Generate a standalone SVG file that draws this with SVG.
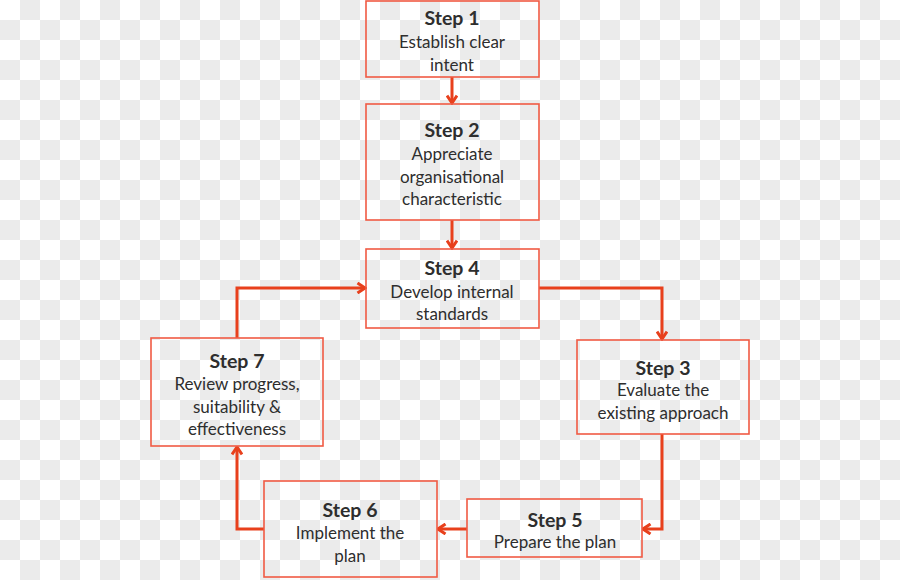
<svg xmlns="http://www.w3.org/2000/svg" width="900" height="580" viewBox="0 0 900 580">
<defs>
<pattern id="chk" x="0" y="0" width="40" height="40" patternUnits="userSpaceOnUse">
<rect width="40" height="40" fill="#ffffff"/>
<rect x="20" y="0" width="20" height="20" fill="#ebebeb"/>
<rect x="0" y="20" width="20" height="20" fill="#ebebeb"/>
</pattern>
<marker id="arr" viewBox="0 0 12 12" markerWidth="12" markerHeight="12" refX="10.5" refY="6" orient="auto" markerUnits="userSpaceOnUse">
<path d="M3,1 L10.5,6 L3,11" fill="none" stroke="#e8401c" stroke-width="3"/>
</marker>
</defs>
<style>
.box{fill:none;stroke:#f05a44;stroke-width:1.6}
.t{font-family:Lato,"Open Sans","Liberation Sans",sans-serif;fill:#2e2e2e;text-anchor:middle}
.h{font-size:19.5px;font-weight:bold}
.b{font-size:17px}
.c{fill:none;stroke:#e8401c;stroke-width:3;marker-end:url(#arr)}
</style>
<rect width="900" height="580" fill="url(#chk)"/>
<g id="connectors">
<path class="c" d="M452,77 V103"/>
<path class="c" d="M452,220 V248"/>
<path class="c" d="M539,288 H662 V339"/>
<path class="c" d="M662,434 V529 H643"/>
<path class="c" d="M467,529 H438"/>
<path class="c" d="M264,529 H237 V447"/>
<path class="c" d="M237,338 V288 H365"/>
</g>
<g id="step1">
<rect class="box" x="366" y="1" width="173" height="76"/>
<text class="t h" x="452" y="25">Step 1</text>
<text class="t b" x="452" y="48">Establish clear</text>
<text class="t b" x="452" y="71">intent</text>
</g>
<g id="step2">
<rect class="box" x="366" y="104" width="173" height="116"/>
<text class="t h" x="452" y="137">Step 2</text>
<text class="t b" x="452" y="160">Appreciate</text>
<text class="t b" x="452" y="183">organisational</text>
<text class="t b" x="452" y="205">characteristic</text>
</g>
<g id="step4">
<rect class="box" x="366" y="249" width="173" height="79"/>
<text class="t h" x="452" y="275">Step 4</text>
<text class="t b" x="452" y="298">Develop internal</text>
<text class="t b" x="452" y="320">standards</text>
</g>
<g id="step3">
<rect class="box" x="577" y="340" width="172" height="94"/>
<text class="t h" x="663" y="375">Step 3</text>
<text class="t b" x="663" y="396">Evaluate the</text>
<text class="t b" x="663" y="419">existing approach</text>
</g>
<g id="step7">
<rect class="box" x="151" y="338" width="172" height="108"/>
<text class="t h" x="237" y="368">Step 7</text>
<text class="t b" x="237" y="390">Review progress,</text>
<text class="t b" x="237" y="413">suitability &amp;</text>
<text class="t b" x="237" y="435">effectiveness</text>
</g>
<g id="step6">
<rect class="box" x="264" y="481" width="173" height="96"/>
<text class="t h" x="350" y="517">Step 6</text>
<text class="t b" x="350" y="539">Implement the</text>
<text class="t b" x="350" y="562">plan</text>
</g>
<g id="step5">
<rect class="box" x="467" y="499" width="175" height="58"/>
<text class="t h" x="555" y="527">Step 5</text>
<text class="t b" x="555" y="548">Prepare the plan</text>
</g>
</svg>
